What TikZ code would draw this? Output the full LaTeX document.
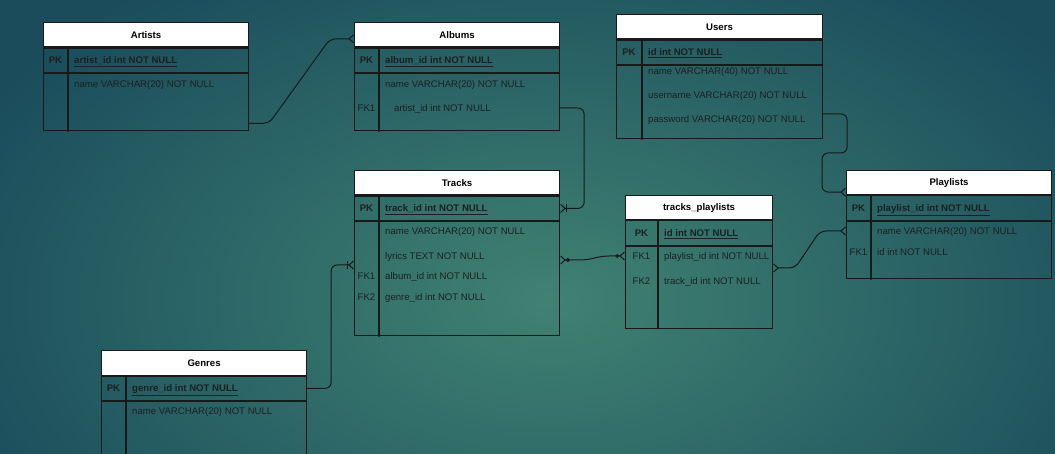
\documentclass[tikz,border=0pt]{standalone}
\usepackage{fontspec}
\setmainfont{Liberation Sans}
\usetikzlibrary{arrows.meta,calc}
\definecolor{bgin}{RGB}{64,130,114}
\definecolor{bgout}{RGB}{26,76,92}
\definecolor{inkdark}{RGB}{28,32,32}

\begin{document}
\begin{tikzpicture}[x=1pt,y=-1pt,line cap=round,font=\fontsize{9.6}{11}\selectfont,
  tbl/.style={draw=black!90,line width=1.1pt,anchor=north west,inner sep=0pt,minimum width=205pt},
  hdr/.style={tbl,fill=white,minimum height=24.5pt,text=black,font=\fontsize{9.6}{11}\selectfont\bfseries},
  pkrow/.style={tbl,minimum height=24.5pt},
  colline/.style={draw=black!90,line width=1.1pt},
  fld/.style={anchor=west,inner sep=0pt,text height=6.9pt,text depth=0pt,text=inkdark},
  keyfld/.style={fld,anchor=center},
  pkfld/.style={fld,font=\fontsize{9.6}{11}\selectfont\bfseries},
  rel/.style={draw=black!90,line width=1pt,rounded corners=6pt},
  crow/.style={-{Straight Barb[reversed,length=4.5pt,width=8pt]}},
  crowbar/.style={-{Bar[width=8pt]Straight Barb[reversed,length=4.5pt,width=8pt]}},
  ocrowboth/.style={{Straight Barb[reversed,length=4.5pt,width=8pt]Circle[open,length=4pt]}-{Circle[open,length=4pt]Straight Barb[reversed,length=4.5pt,width=8pt]}},
  crowboth/.style={{Straight Barb[reversed,length=4.5pt,width=8pt]}-{Straight Barb[reversed,length=4.5pt,width=8pt]}}]
\useasboundingbox (0,0) rectangle (1055,454);
\clip (0,0) rectangle (1055,454);
\shade[inner color=bgin,outer color=bgout] (-100,-100) rectangle (1200,700);

% Artists
\node[hdr] (artists) at (43,22) {Artists};
\node[pkrow] (artists pk) at (artists.south west) {};
\node[tbl,minimum height=57pt] (artists body) at (artists pk.south west) {};
\draw[colline] ([xshift=25pt]artists pk.north west) -- ([xshift=25pt]artists body.south west);
\node[keyfld,font=\fontsize{9.6}{11}\selectfont\bfseries] (artists k0) at ([xshift=12.5pt]artists pk.west) {PK};
\node[pkfld] (artists f0) at ([xshift=31pt]artists pk.west) {\underline{artist\_id int NOT NULL}};
\node[fld] (artists f1) at (74,84) {name VARCHAR(20) NOT NULL};

% Albums
\node[hdr] (albums) at (354,22) {Albums};
\node[pkrow] (albums pk) at (albums.south west) {};
\node[tbl,minimum height=57pt] (albums body) at (albums pk.south west) {};
\draw[colline] ([xshift=25pt]albums pk.north west) -- ([xshift=25pt]albums body.south west);
\node[keyfld,font=\fontsize{9.6}{11}\selectfont\bfseries] (albums k0) at ([xshift=12.5pt]albums pk.west) {PK};
\node[pkfld] (albums f0) at ([xshift=31pt]albums pk.west) {\underline{album\_id int NOT NULL}};
\node[fld] (albums f1) at (385,84) {name VARCHAR(20) NOT NULL};
\node[keyfld] (albums k2) at (366.5,108) {FK1};
\node[fld] (albums f2) at (394,108) {artist\_id int NOT NULL};

% Users
\node[hdr,minimum width=206pt] (users) at (616,14) {Users};
\node[pkrow,minimum width=206pt] (users pk) at (users.south west) {};
\node[tbl,minimum width=206pt,minimum height=73pt] (users body) at (users pk.south west) {};
\draw[colline] ([xshift=26pt]users pk.north west) -- ([xshift=26pt]users body.south west);
\node[keyfld,font=\fontsize{9.6}{11}\selectfont\bfseries] (users k0) at ([xshift=13pt]users pk.west) {PK};
\node[pkfld] (users f0) at ([xshift=32pt]users pk.west) {\underline{id int NOT NULL}};
\node[fld] (users f1) at (648,71) {name VARCHAR(40) NOT NULL};
\node[fld] (users f2) at (648,95) {username VARCHAR(20) NOT NULL};
\node[fld] (users f3) at (648,119) {password VARCHAR(20) NOT NULL};

% Tracks
\node[hdr] (tracks) at (354,170) {Tracks};
\node[pkrow] (tracks pk) at (tracks.south west) {};
\node[tbl,minimum height=114pt] (tracks body) at (tracks pk.south west) {};
\draw[colline] ([xshift=25pt]tracks pk.north west) -- ([xshift=25pt]tracks body.south west);
\node[keyfld,font=\fontsize{9.6}{11}\selectfont\bfseries] (tracks k0) at ([xshift=12.5pt]tracks pk.west) {PK};
\node[pkfld] (tracks f0) at ([xshift=31pt]tracks pk.west) {\underline{track\_id int NOT NULL}};
\node[fld] (tracks f1) at (385,231) {name VARCHAR(20) NOT NULL};
\node[fld] (tracks f2) at (385,256) {lyrics TEXT NOT NULL};
\node[keyfld] (tracks k3) at (366.5,276) {FK1};
\node[fld] (tracks f3) at (385,276) {album\_id int NOT NULL};
\node[keyfld] (tracks k4) at (366.5,297) {FK2};
\node[fld] (tracks f4) at (385,297) {genre\_id int NOT NULL};

% tracks_playlists
\node[hdr,minimum width=147pt,minimum height=24pt] (tp) at (625,195) {tracks\_playlists};
\node[pkrow,minimum width=147pt] (tp pk) at (tp.south west) {};
\node[tbl,minimum width=147pt,minimum height=82pt] (tp body) at (tp pk.south west) {};
\draw[colline] ([xshift=33pt]tp pk.north west) -- ([xshift=33pt]tp body.south west);
\node[keyfld,font=\fontsize{9.6}{11}\selectfont\bfseries] (tp k0) at ([xshift=16.5pt]tp pk.west) {PK};
\node[pkfld] (tp f0) at ([xshift=39pt]tp pk.west) {\underline{id int NOT NULL}};
\node[keyfld] (tp k1) at (641.5,256) {FK1};
\node[fld] (tp f1) at (664,256) {playlist\_id int NOT NULL};
\node[keyfld] (tp k2) at (641.5,281) {FK2};
\node[fld] (tp f2) at (664,281) {track\_id int NOT NULL};

% Playlists
\node[hdr,minimum height=24pt] (playlists) at (846,170) {Playlists};
\node[pkrow,minimum height=25pt] (playlists pk) at (playlists.south west) {};
\node[tbl,minimum height=57pt] (playlists body) at (playlists pk.south west) {};
\draw[colline] ([xshift=25pt]playlists pk.north west) -- ([xshift=25pt]playlists body.south west);
\node[keyfld,font=\fontsize{9.6}{11}\selectfont\bfseries] (playlists k0) at ([xshift=12.5pt]playlists pk.west) {PK};
\node[pkfld] (playlists f0) at ([xshift=31pt]playlists pk.west) {\underline{playlist\_id int NOT NULL}};
\node[fld] (playlists f1) at (877,231) {name VARCHAR(20) NOT NULL};
\node[keyfld] (playlists k2) at (858.5,252) {FK1};
\node[fld] (playlists f2) at (877,252) {id int NOT NULL};

% Genres
\node[hdr] (genres) at (101,350) {Genres};
\node[pkrow] (genres pk) at (genres.south west) {};
\node[tbl,minimum height=80pt] (genres body) at (genres pk.south west) {};
\draw[colline] ([xshift=25pt]genres pk.north west) -- ([xshift=25pt]genres body.south west);
\node[keyfld,font=\fontsize{9.6}{11}\selectfont\bfseries] (genres k0) at ([xshift=12.5pt]genres pk.west) {PK};
\node[pkfld] (genres f0) at ([xshift=31pt]genres pk.west) {\underline{genre\_id int NOT NULL}};
\node[fld] (genres f1) at (132,411) {name VARCHAR(20) NOT NULL};

% relations
\draw[rel,crow] ([yshift=8pt]artists body.south east) -- ++(20,0) -- ([xshift=-24pt,yshift=-4pt]albums.west) -- ([yshift=-4pt]albums.west);
\draw[rel,crowbar] (albums body.east |- albums f2) -- ++(24,0) |- (tracks pk.east);
\draw[rel,crowbar] (genres pk.east) -- ++(24,0) |- ($(tracks body.west |- tracks f2)+(0,9)$);
\draw[rel,ocrowboth] ($(tracks body.east |- tracks f2)+(0,4)$) -- ++(26,0) -- ($(tp body.west |- tp f1)+(-22,0)$) -- (tp body.west |- tp f1);
\draw[rel,crowboth] ($(tp body.east |- tp f1)+(0,12)$) -- ++(22,0) -- ($(playlists body.west |- playlists f1)+(-26,0)$) -- (playlists body.west |- playlists f1);
\draw[rel,crow] ($(users body.east |- users f3)+(0,-5)$) -- ++(24,0) -- ++(0,39) -- ++(-25,0) |- ($(playlists.south west)+(0,-3)$);
\end{tikzpicture}
\end{document}
